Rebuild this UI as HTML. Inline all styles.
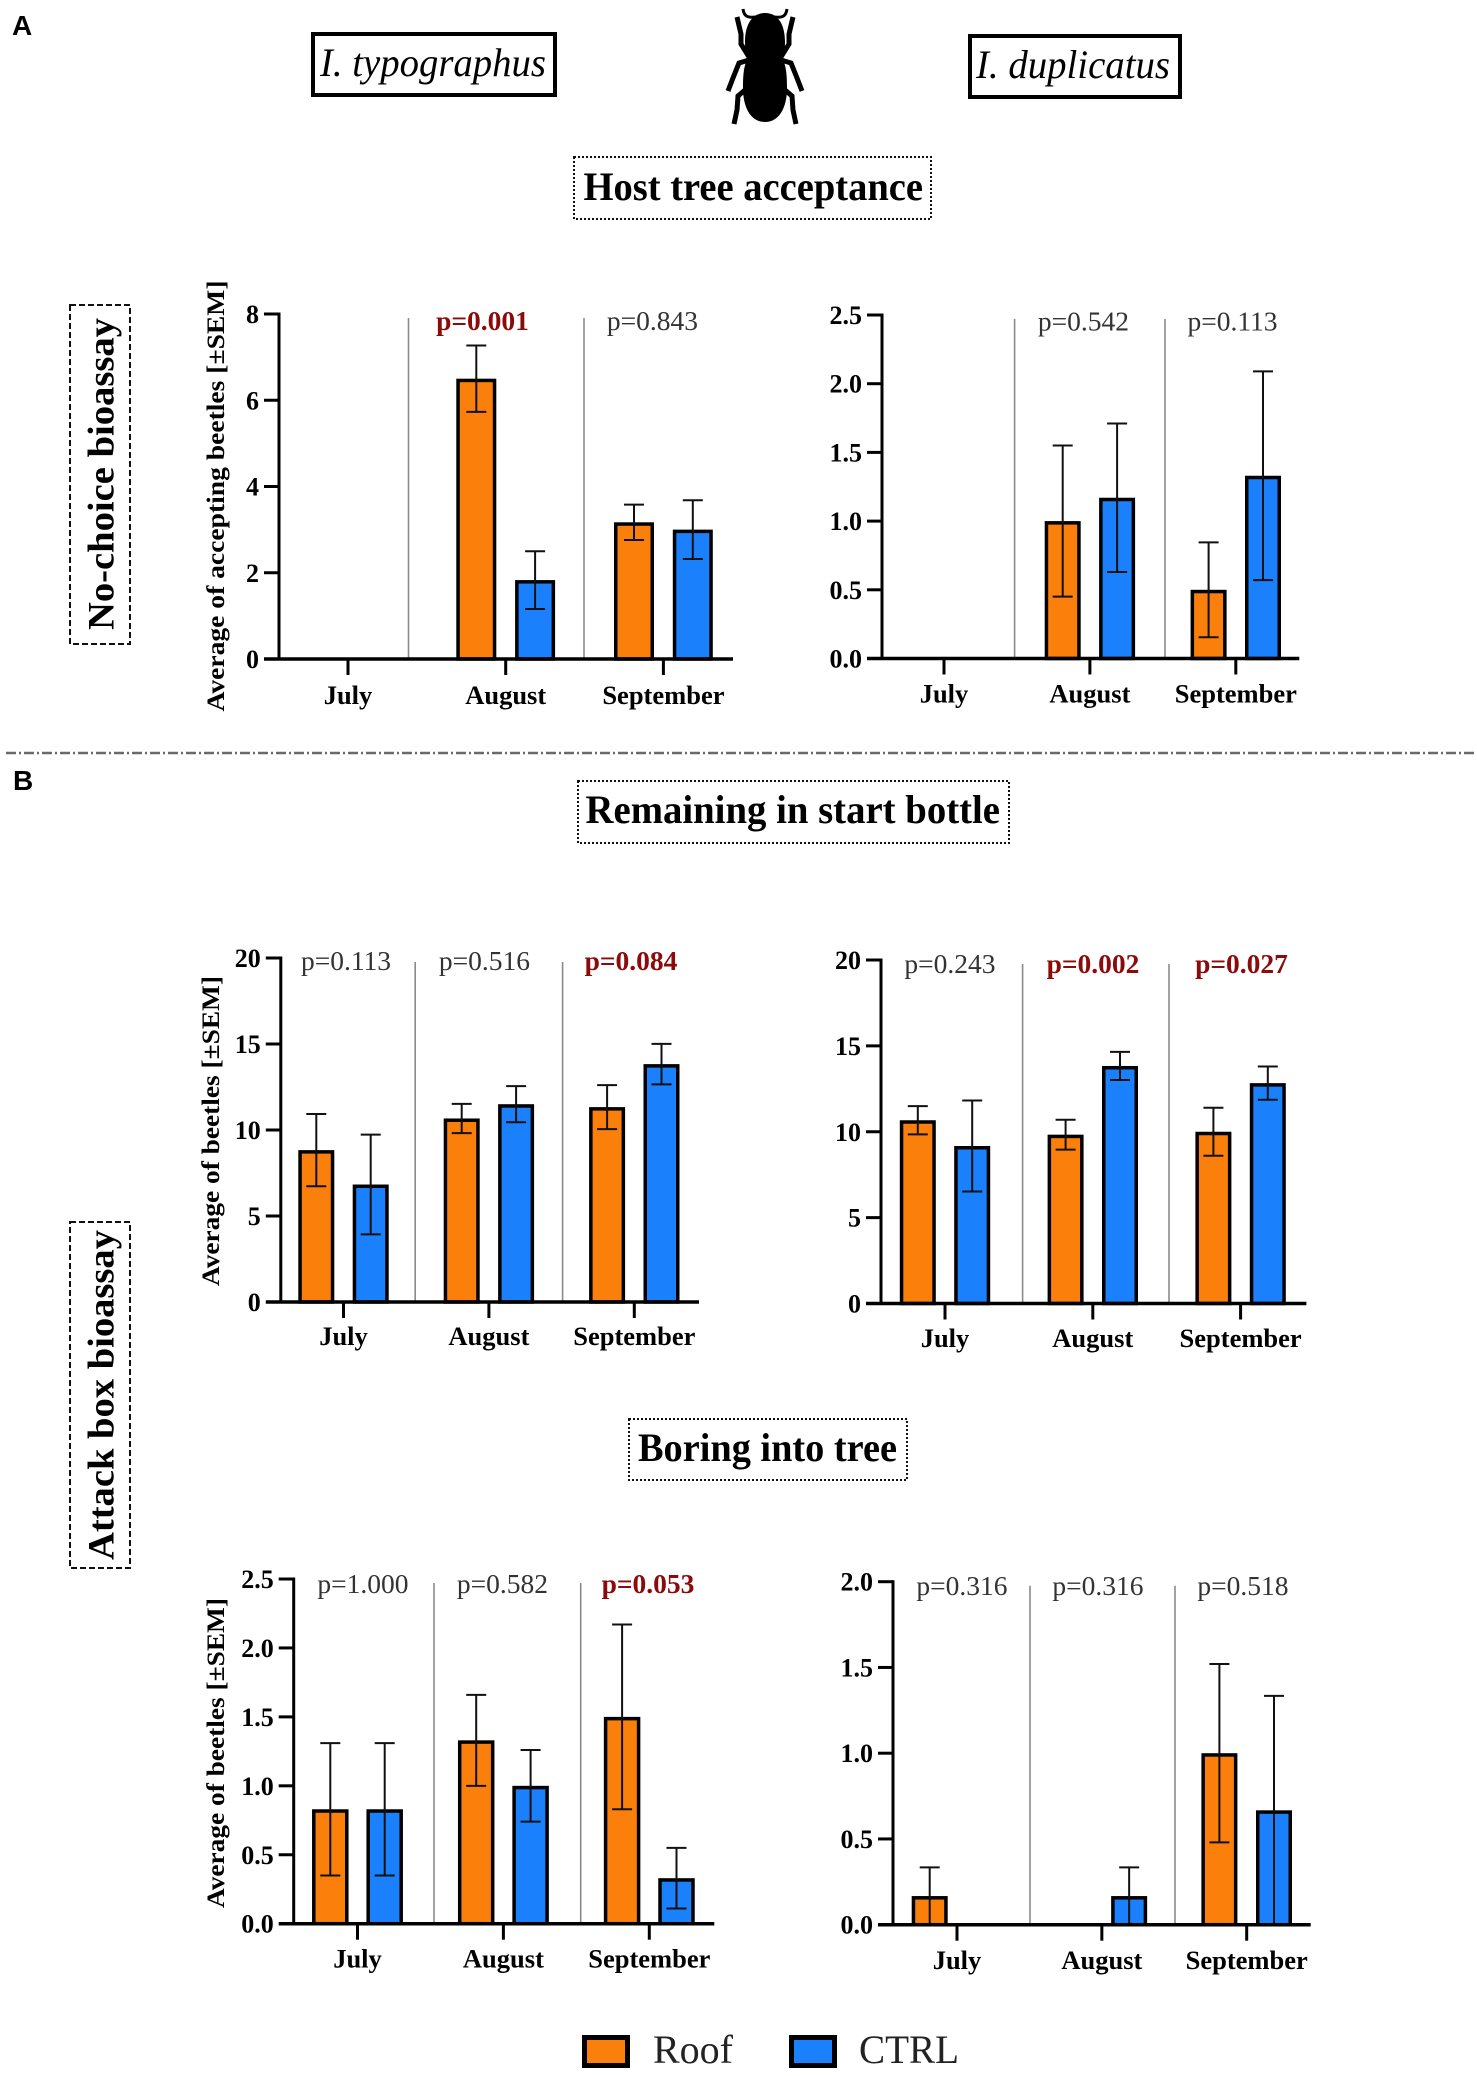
<!DOCTYPE html>
<html lang="en">
<head>
<meta charset="utf-8">
<title>Host tree acceptance and attack box bioassay</title>
<style>
html,body{margin:0;padding:0;background:#fff;}
svg{display:block;}
text{font-family:"Liberation Serif",serif;}
</style>
</head>
<body>
<svg id="figure" xmlns="http://www.w3.org/2000/svg" width="1477" height="2076" viewBox="0 0 1477 2076">
  <rect x="0" y="0" width="1477" height="2076" fill="#fff"/>
  <text x="12" y="35" style="font-family:'Liberation Sans',sans-serif" font-size="28" font-weight="700">A</text>
  <text x="13" y="790" style="font-family:'Liberation Sans',sans-serif" font-size="28" font-weight="700">B</text>

  <rect x="313" y="34" width="242" height="61" fill="#fff" stroke="#000" stroke-width="4"/>
  <text x="320" y="76" font-size="40" font-style="italic" textLength="226" lengthAdjust="spacingAndGlyphs">I. typographus</text>
  <rect x="970" y="36" width="210" height="61" fill="#fff" stroke="#000" stroke-width="4"/>
  <text x="976" y="78" font-size="40" font-style="italic" textLength="194" lengthAdjust="spacingAndGlyphs">I. duplicatus</text>

  <g fill="#000" stroke="#000">
    <path stroke="none" d="M765 13C751 13 745 26 745 42C745 50 746 55 748 59C744 64 743 74 743 88C743 108 751 122 765 122C779 122 787 108 787 88C787 74 786 64 782 59C784 55 785 50 785 42C785 26 779 13 765 13Z"/>
    <path fill="none" stroke-width="3" d="M743 9C744 16 747 18 756 17M787 9C786 16 783 18 774 17"/>
    <path fill="none" stroke-width="5" d="M737 17L741 34L741 44L749 57M793 17L789 34L789 44L781 57"/>
    <path fill="none" stroke-width="5" d="M749 60L739 63L733 78L728 91M781 60L791 63L797 78L802 91"/>
    <path fill="none" stroke-width="5" d="M745 90L738 96L737 110L734 124M785 90L792 96L793 110L796 124"/>
  </g>

  <rect x="574" y="157" width="357" height="62" fill="none" stroke="#111" stroke-width="2" stroke-dasharray="2 2"/>
  <text x="583.5" y="200" font-size="40" font-weight="700" textLength="339.5" lengthAdjust="spacingAndGlyphs">Host tree acceptance</text>
  <rect x="578" y="781" width="431" height="62" fill="none" stroke="#111" stroke-width="2" stroke-dasharray="2 2"/>
  <text x="585.5" y="823" font-size="40" font-weight="700" textLength="414.5" lengthAdjust="spacingAndGlyphs">Remaining in start bottle</text>
  <rect x="629" y="1419" width="278" height="61" fill="none" stroke="#111" stroke-width="2" stroke-dasharray="2 2"/>
  <text x="638" y="1461" font-size="40" font-weight="700" textLength="259" lengthAdjust="spacingAndGlyphs">Boring into tree</text>

  <line x1="6" y1="753" x2="1477" y2="753" stroke="#6a6a6a" stroke-width="2.5" stroke-dasharray="10 3 2 3"/>

  <rect x="70" y="305" width="60" height="339" fill="none" stroke="#111" stroke-width="2" stroke-dasharray="6 3"/>
  <text transform="translate(113.5,474) rotate(-90)" text-anchor="middle" font-size="37" font-weight="700" textLength="312" lengthAdjust="spacingAndGlyphs">No-choice bioassay</text>
  <rect x="70" y="1222" width="60" height="346" fill="none" stroke="#111" stroke-width="2" stroke-dasharray="6 3"/>
  <text transform="translate(113.5,1395) rotate(-90)" text-anchor="middle" font-size="37" font-weight="700" textLength="330" lengthAdjust="spacingAndGlyphs">Attack box bioassay</text>

  <g id="charts"></g>

  <rect x="584.5" y="2037.5" width="43" height="28" fill="#fb7f0b" stroke="#000" stroke-width="5"/>
  <text x="653" y="2063" font-size="40" fill="#222">Roof</text>
  <rect x="791.5" y="2037.5" width="43" height="28" fill="#1b80fb" stroke="#000" stroke-width="5"/>
  <text x="859" y="2063" font-size="40" fill="#222" textLength="100" lengthAdjust="spacingAndGlyphs">CTRL</text>
</svg>
<script>
const categories = ['July', 'August', 'September'];

const a1Roof = [0, 6.5, 3.17];
const a1Ctrl = [0, 1.83, 3.0];
const a1RoofSem = [0, 0.77, 0.41];
const a1CtrlSem = [0, 0.67, 0.68];
const a1Ticks = ['0', '2', '4', '6', '8'];
const a1PValues = ['', 'p=0.001', 'p=0.843'];
const a1Significant = [false, true, false];

const a2Roof = [0, 1.0, 0.5];
const a2Ctrl = [0, 1.17, 1.33];
const a2RoofSem = [0, 0.55, 0.345];
const a2CtrlSem = [0, 0.54, 0.76];
const a2Ticks = ['0.0', '0.5', '1.0', '1.5', '2.0', '2.5'];
const a2PValues = ['', 'p=0.542', 'p=0.113'];
const a2Significant = [false, false, false];

const b1Roof = [8.83, 10.67, 11.33];
const b1Ctrl = [6.83, 11.5, 13.83];
const b1RoofSem = [2.1, 0.85, 1.28];
const b1CtrlSem = [2.9, 1.05, 1.18];
const b1Ticks = ['0', '5', '10', '15', '20'];
const b1PValues = ['p=0.113', 'p=0.516', 'p=0.084'];
const b1Significant = [false, false, true];

const b2Roof = [10.67, 9.83, 10.0];
const b2Ctrl = [9.17, 13.83, 12.83];
const b2RoofSem = [0.82, 0.87, 1.4];
const b2CtrlSem = [2.65, 0.82, 0.97];
const b2Ticks = ['0', '5', '10', '15', '20'];
const b2PValues = ['p=0.243', 'p=0.002', 'p=0.027'];
const b2Significant = [false, true, true];

const c1Roof = [0.83, 1.33, 1.5];
const c1Ctrl = [0.83, 1.0, 0.33];
const c1RoofSem = [0.48, 0.33, 0.67];
const c1CtrlSem = [0.48, 0.26, 0.22];
const c1Ticks = ['0.0', '0.5', '1.0', '1.5', '2.0', '2.5'];
const c1PValues = ['p=1.000', 'p=0.582', 'p=0.053'];
const c1Significant = [false, false, true];

const c2Roof = [0.167, 0, 1.0];
const c2Ctrl = [0, 0.167, 0.667];
const c2RoofSem = [0.167, 0, 0.52];
const c2CtrlSem = [0, 0.167, 0.667];
const c2Ticks = ['0.0', '0.5', '1.0', '1.5', '2.0'];
const c2PValues = ['p=0.316', 'p=0.316', 'p=0.518'];
const c2Significant = [false, false, false];

const NS = 'http://www.w3.org/2000/svg';
const root = document.getElementById('charts');

function make(parent, tag, attrs, txt) {
  const n = document.createElementNS(NS, tag);
  for (const k in attrs) n.setAttribute(k, attrs[k]);
  if (txt !== undefined) n.textContent = txt;
  parent.appendChild(n);
  return n;
}

function drawChart(c) {
  const g = make(root, 'g', {});
  
  

  const yMax = parseFloat(c.ticks[c.ticks.length - 1]);
  const yS = v => c.y0 - (v / yMax) * (c.y0 - c.yTop);
  const xS = i => c.xFirst + i * c.xStep;

  c.dividers.forEach(dx => {
    const d = make(g, 'line', {x1: dx, x2: dx, y1: c.yTop + 4, y2: c.y0, stroke: '#8a8a8a', 'stroke-width': 1.6});
    
    
  });

  categories.forEach((cat, i) => {
    [[c.roof, c.roofSem, '#fb7f0b', -1, 'roof'], [c.ctrl, c.ctrlSem, '#1b80fb', 1, 'ctrl']].forEach(s => {
      const val = s[0][i], sem = s[1][i];
      if (val <= 0) return;
      const cx = xS(i) + s[3] * c.offset;
      const b = make(g, 'rect', {x: cx - c.barW / 2 + 1.75, y: yS(val) + 1.75, width: c.barW - 3.5, height: c.y0 - yS(val) - 1.75, fill: s[2], stroke: '#000', 'stroke-width': 3.5});
      
      
      const e = make(g, 'path', {d: 'M' + cx + ' ' + yS(val + sem) + 'V' + yS(val - sem) + 'M' + (cx - 10) + ' ' + yS(val + sem) + 'H' + (cx + 10) + 'M' + (cx - 10) + ' ' + yS(val - sem) + 'H' + (cx + 10), fill: 'none', stroke: '#111', 'stroke-width': 2});
      
      
    });

    const tk = make(g, 'line', {x1: xS(i), x2: xS(i), y1: c.y0, y2: c.y0 + 16, stroke: '#000', 'stroke-width': 3});
    
    

    const lb = make(g, 'text', {x: xS(i), y: c.xLabelY, 'text-anchor': 'middle', 'font-size': 26.5, 'font-weight': 700}, cat);
    
    

    if (c.pValues[i]) {
      const sig = c.significant[i];
      const p = make(g, 'text', {x: c.pX[i], y: c.pY, 'text-anchor': 'middle', 'font-size': 27.5, 'font-weight': sig ? 700 : 400, fill: sig ? '#8b0a0a' : '#333'}, c.pValues[i]);
      
      
    }
  });

  c.ticks.forEach(t => {
    const y = yS(parseFloat(t));
    if (parseFloat(t) !== 0) {
      const tk = make(g, 'line', {x1: c.axisX - 15, x2: c.axisX, y1: y, y2: y, stroke: '#000', 'stroke-width': 3});
      
      
    }
    const lb = make(g, 'text', {x: c.axisX - 20, y: y + 9, 'text-anchor': 'end', 'font-size': 26, 'font-weight': 700}, t);
    
    
  });

  const ya = make(g, 'line', {x1: c.axisX, x2: c.axisX, y1: c.yTop - 1.5, y2: c.y0, stroke: '#000', 'stroke-width': 3});
  
  
  const xa = make(g, 'line', {x1: c.axisX - 15, x2: c.axisEnd, y1: c.y0, y2: c.y0, stroke: '#000', 'stroke-width': 3.5});
  
  

  if (c.yTitle) {
    const tt = make(g, 'text', {transform: 'translate(' + c.yTitleX + ',' + c.yTitleY + ') rotate(-90)', 'text-anchor': 'middle', 'font-size': 25, 'font-weight': 700, textLength: c.yTitleLen, lengthAdjust: 'spacingAndGlyphs'}, c.yTitle);
    
    
  }
}

drawChart({id: 'typographus-acceptance', roof: a1Roof, ctrl: a1Ctrl, roofSem: a1RoofSem, ctrlSem: a1CtrlSem, ticks: a1Ticks, pValues: a1PValues, significant: a1Significant,
  axisX: 279, axisEnd: 733, y0: 659, yTop: 314, xFirst: 348, xStep: 157.7, offset: 29.4, barW: 40, dividers: [408.5, 584], pX: [0, 482.5, 652.5], pY: 330, xLabelY: 704,
  yTitle: 'Average of accepting beetles [±SEM]', yTitleX: 224, yTitleY: 496, yTitleLen: 431});
drawChart({id: 'duplicatus-acceptance', roof: a2Roof, ctrl: a2Ctrl, roofSem: a2RoofSem, ctrlSem: a2CtrlSem, ticks: a2Ticks, pValues: a2PValues, significant: a2Significant,
  axisX: 882, axisEnd: 1299.3, y0: 658.5, yTop: 315, xFirst: 944, xStep: 145.9, offset: 27.2, barW: 36, dividers: [1014.6, 1165], pX: [0, 1083.5, 1232.5], pY: 330.5, xLabelY: 702.7});
drawChart({id: 'typographus-remaining', roof: b1Roof, ctrl: b1Ctrl, roofSem: b1RoofSem, ctrlSem: b1CtrlSem, ticks: b1Ticks, pValues: b1PValues, significant: b1Significant,
  axisX: 280.8, axisEnd: 699, y0: 1302, yTop: 958, xFirst: 343.5, xStep: 145.4, offset: 27.2, barW: 36, dividers: [415.2, 562.6], pX: [346, 484.5, 631], pY: 970, xLabelY: 1345,
  yTitle: 'Average of beetles [±SEM]', yTitleX: 219, yTitleY: 1131, yTitleLen: 310});
drawChart({id: 'duplicatus-remaining', roof: b2Roof, ctrl: b2Ctrl, roofSem: b2RoofSem, ctrlSem: b2CtrlSem, ticks: b2Ticks, pValues: b2PValues, significant: b2Significant,
  axisX: 881, axisEnd: 1306.4, y0: 1303.5, yTop: 960, xFirst: 945, xStep: 147.8, offset: 27.2, barW: 36, dividers: [1022.6, 1169], pX: [950, 1093, 1241.5], pY: 973, xLabelY: 1347});
drawChart({id: 'typographus-boring', roof: c1Roof, ctrl: c1Ctrl, roofSem: c1RoofSem, ctrlSem: c1CtrlSem, ticks: c1Ticks, pValues: c1PValues, significant: c1Significant,
  axisX: 293.7, axisEnd: 714.3, y0: 1923.7, yTop: 1579, xFirst: 357.5, xStep: 145.9, offset: 27.2, barW: 36.5, dividers: [434, 580.7], pX: [363, 502.5, 648], pY: 1593, xLabelY: 1967.7,
  yTitle: 'Average of beetles [±SEM]', yTitleX: 224, yTitleY: 1753, yTitleLen: 310});
drawChart({id: 'duplicatus-boring', roof: c2Roof, ctrl: c2Ctrl, roofSem: c2RoofSem, ctrlSem: c2CtrlSem, ticks: c2Ticks, pValues: c2PValues, significant: c2Significant,
  axisX: 893, axisEnd: 1310.7, y0: 1924.7, yTop: 1581.7, xFirst: 957, xStep: 144.85, offset: 27.3, barW: 36, dividers: [1030, 1175], pX: [962, 1098, 1243], pY: 1595, xLabelY: 1969});
</script>
</body>
</html>
